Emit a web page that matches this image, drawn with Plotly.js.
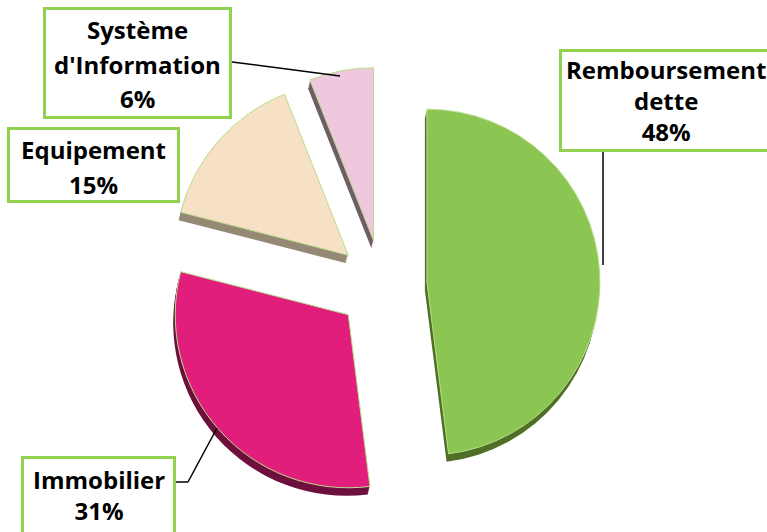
<!DOCTYPE html>
<html><head><meta charset="utf-8">
<script src="https://cdn.plot.ly/plotly-3.0.1.min.js"></script>
<style>html,body{margin:0;padding:0;background:#fff}#chart{width:767px;height:532px}</style>
</head><body><div id="chart"></div>
<script>
// ---- data ----
const categories = ['Remboursement dette', 'Immobilier', 'Equipement', "Système d'Information"];
const values = [48, 31, 15, 6];
const colors = ['#8cc652', '#e21e7c', '#f7e1c4', '#f0c8dd'];
const sideColors = ['#4f7026', '#6e0f3e', '#958976', '#6f5e67'];
const pulls = [0.26, 0.26, 0.26, 0.26];

// ---- layout helpers ----
const W = 767, H = 532;
const px = x => x / W;
const py = y => 1 - y / H;
const dom = {x: [0.19817, 0.79791], y: [0.05451, 0.87406]};

function pieTrace(cols, dx, dy, line) {
  return {
    type: 'pie', labels: categories, values: values, sort: false,
    direction: 'clockwise', rotation: 0, pull: pulls,
    textinfo: 'none', hoverinfo: 'skip', showlegend: false,
    marker: {colors: cols, line: line},
    domain: {x: [dom.x[0] + dx / W, dom.x[1] + dx / W], y: [dom.y[0] - dy / H, dom.y[1] - dy / H]}
  };
}

const traces = [];
[8, 6, 4, 2].forEach(d => traces.push(pieTrace(sideColors, -0.25 * d, d, {width: 0})));
traces.push(pieTrace(colors, 0, 0, {color: '#b9dc8c', width: 1}));

// label boxes (outer pixel bounds), text centre x and baselines
const boxes = [
  {b: [559, 49, 772, 152], cx: 666, base: [79, 110, 139], split: false},
  {b: [21, 456, 176, 536], cx: 99, base: [488, 520], split: false},
  {b: [7, 127, 180, 203], cx: 93, base: [158, 193], split: true},
  {b: [43, 7, 232, 119], cx: 137.5, base: [39, 74, 107], split: true}
];
const leaders = [
  [[603, 152], [603, 265]],
  [[176, 482], [188, 482], [217, 428]],
  [[232, 62], [340, 76]]
];

const shapes = [];
const annotations = [];
const FS = 24, OFF = 9;
const font = {family: 'Open Sans', size: FS, color: '#000000', weight: 700};
boxes.forEach((bx, i) => {
  const [l, t, r, b] = bx.b;
  shapes.push({type: 'rect', xref: 'paper', yref: 'paper', layer: 'above',
    x0: px(l + 1.5), x1: px(r - 1.5), y0: py(b - 1.5), y1: py(t + 1.5),
    line: {color: '#92d050', width: 3}, fillcolor: '#ffffff'});
  const lines = categories[i].split(' ').concat([values[i] + '%']);
  if (bx.split) {
    lines.forEach((txt, k) => {
      annotations.push({xref: 'paper', yref: 'paper', x: px(bx.cx), y: py(bx.base[k] - OFF),
        xanchor: 'center', yanchor: 'middle', showarrow: false, text: txt, font: font});
    });
  } else {
    const mid = (bx.base[0] + bx.base[bx.base.length - 1]) / 2;
    annotations.push({xref: 'paper', yref: 'paper', x: px(bx.cx), y: py(mid - OFF),
      xanchor: 'center', yanchor: 'middle', align: 'center', showarrow: false,
      text: lines.join('<br>'), font: font});
  }
});
leaders.forEach(pts => {
  for (let k = 0; k < pts.length - 1; k++) {
    shapes.push({type: 'line', xref: 'paper', yref: 'paper', layer: 'above',
      x0: px(pts[k][0]), y0: py(pts[k][1]), x1: px(pts[k + 1][0]), y1: py(pts[k + 1][1]),
      line: {color: '#000000', width: 1.5}});
  }
});

Plotly.newPlot('chart', traces, {
  width: W, height: H, margin: {l: 0, r: 0, t: 0, b: 0},
  paper_bgcolor: '#ffffff', showlegend: false,
  shapes: shapes, annotations: annotations
}, {staticPlot: true});
</script></body></html>
